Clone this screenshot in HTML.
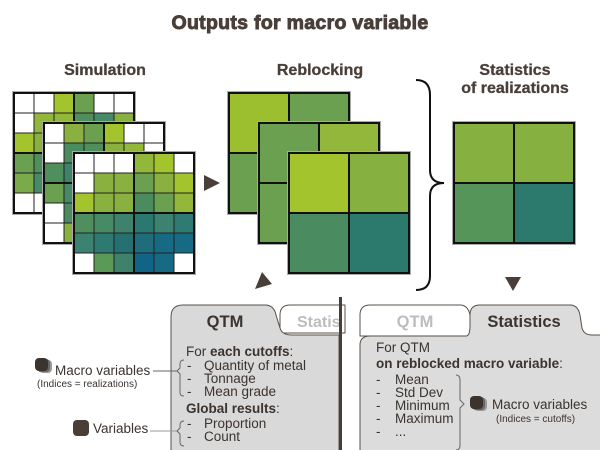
<!DOCTYPE html>
<html><head><meta charset="utf-8"><style>
html,body{margin:0;padding:0;background:#fff;}
svg{display:block;font-family:"Liberation Sans",sans-serif;}
</style></head><body>
<svg id="s" width="600" height="450" viewBox="0 0 600 450" xmlns="http://www.w3.org/2000/svg">
<text x="300" y="29" text-anchor="middle" font-size="19.5" font-weight="bold" fill="#4a3f38" stroke="#4a3f38" stroke-width="0.9" letter-spacing="0.3">Outputs for macro variable</text>
<g font-size="16" font-weight="bold" fill="#4a3f38" stroke="#4a3f38" stroke-width="0.3">
<text x="105" y="75" text-anchor="middle">Simulation</text>
<text x="320" y="75" text-anchor="middle">Reblocking</text>
<text x="515" y="75" text-anchor="middle">Statistics</text>
<text x="515" y="93" text-anchor="middle">of realizations</text>
</g>
<g id="grids"></g>
<path d="M416,80 Q430,80 430,95 L430,170 Q430,183 444,183 Q430,183 430,196 L430,276 Q430,290 416,290" fill="none" stroke="#111" stroke-width="2"/>
<polygon points="204,175 220,183 204,191" fill="#4a3f38"/>
<polygon points="255,289 272,284 262,272" fill="#4a3f38"/>
<polygon points="505,277 521,277 513,291" fill="#4a3f38"/>
<path d="M280,333 L280,315 Q280,305 290,305 L345,305 L345,333 Z" fill="#fff" stroke="#5a5048" stroke-width="1"/>
<text x="297" y="327" font-size="16" font-weight="bold" fill="#bdbdbd">Statis</text>
<path d="M171,452 L171,317 Q171,305 183,305 L265,305 Q274,305 276,315 L280,328 Q282,335 292,335 L339,335 L339,452 Z" fill="#d9d9d9" stroke="#5a5048" stroke-width="1"/>
<rect x="339" y="297" width="3" height="153" fill="#4a3f38"/>
<text x="225" y="327" text-anchor="middle" font-size="16.5" font-weight="bold" fill="#3b332e">QTM</text>
<g font-size="13.5" fill="#3b332e">
<text x="186" y="356">For <tspan font-weight="bold">each cutoffs</tspan>:</text>
<text x="187" y="370">-</text><text x="204" y="370">Quantity of metal</text>
<text x="187" y="383">-</text><text x="204" y="383">Tonnage</text>
<text x="187" y="396">-</text><text x="204" y="396">Mean grade</text>
<text x="186" y="413" font-weight="bold">Global results<tspan font-weight="normal">:</tspan></text>
<text x="187" y="428">-</text><text x="204" y="428">Proportion</text>
<text x="187" y="441">-</text><text x="204" y="441">Count</text>
</g>
<path d="M360,336 L360,315 Q360,305 370,305 L460,305 Q468,305 470,315 L472,336 Z" fill="#fff" stroke="#5a5048" stroke-width="1"/>
<text x="415" y="327" text-anchor="middle" font-size="16.5" font-weight="bold" fill="#bdbdbd">QTM</text>
<path d="M360,452 L360,345 Q360,336 370,336 L466,336 Q470,336 470,326 L470,315 Q470,305 480,305 L570,305 Q578,305 580,315 L582,328 Q584,335 592,335 L601,335 L601,452 Z" fill="#dcdcdc" stroke="#5a5048" stroke-width="1"/>
<text x="524" y="327" text-anchor="middle" font-size="16.5" font-weight="bold" fill="#3b332e">Statistics</text>
<g font-size="13.5" fill="#3b332e">
<text x="376" y="352">For QTM</text>
<text x="376" y="368" font-weight="bold">on reblocked macro variable<tspan font-weight="normal">:</tspan></text>
<text x="376" y="384">-</text><text x="395" y="384">Mean</text>
<text x="376" y="397">-</text><text x="395" y="397">Std Dev</text>
<text x="376" y="410">-</text><text x="395" y="410">Minimum</text>
<text x="376" y="423">-</text><text x="395" y="423">Maximum</text>
<text x="376" y="436">-</text><text x="395" y="436">...</text>
<text x="492" y="409">Macro variables</text>
<text x="496" y="422" font-size="10">(Indices = cutoffs)</text>
</g>
<path d="M456,375 Q460,375 460,380 L460,400 L464,404 L460,408 L460,445 Q460,450 456,450" fill="none" stroke="#666" stroke-width="1"/>
<g transform="translate(470,396)"><rect x="4" y="2" width="13" height="13" rx="4" fill="#999"/><rect x="2" y="1" width="13" height="13" rx="4" fill="#666"/><rect x="0" y="0" width="13" height="13" rx="4" fill="#3b332e"/></g>
<g transform="translate(35,358)"><rect x="4" y="2" width="13" height="13" rx="4" fill="#999"/><rect x="2" y="1" width="13" height="13" rx="4" fill="#666"/><rect x="0" y="0" width="13" height="13" rx="4" fill="#3b332e"/></g>
<text x="55" y="375" font-size="13.5" fill="#3b332e">Macro variables</text>
<text x="37" y="387" font-size="10" fill="#3b332e">(Indices = realizations)</text>
<line x1="153" y1="371" x2="177" y2="371" stroke="#666"/>
<path d="M184,360 Q180,360 180,364 L180,368 L177,371 L180,374 L180,393 Q180,396 184,396" fill="none" stroke="#666"/>
<rect x="73" y="420" width="16" height="16" rx="4" fill="#4a3f38"/>
<text x="93" y="433" font-size="13.5" fill="#3b332e">Variables</text>
<line x1="150" y1="431" x2="177" y2="431" stroke="#999"/>
<path d="M184,421 Q180,421 180,425 L180,428 L177,431 L180,434 L180,442 Q180,446 184,446" fill="none" stroke="#666"/>
</svg>
<script>
var W='#ffffff';
var g1=[[W,W,'#a4c42e','#6aa050',W,W],[W,'#93b73a','#93b73a','#4f8f5e','#468a66','#8ab040'],['#a4c42e','#8ab040','#6aa050','#4f8f5e','#468a66','#3e826c'],['#6aa050','#4f8f5e','#468a66','#3e826c','#2a7870','#2a7870'],['#7aaa4a','#468a66','#3e826c','#2a7870','#267072','#1f6c7c'],[W,W,'#5a9a56','#3e826c','#267072','#1f6c7c']];
var g2=[[W,'#8ab040','#6aa050','#a4c42e',W,W],[W,'#4a8c60','#4f8f5e','#8ab040','#93b73a',W],['#4f8f5e','#3e826c','#468a66','#6aa050','#4f8f5e','#3e826c'],['#6aa050','#468a66','#3e826c','#2a7870','#2a7870','#267072'],[W,'#4a8c60','#3e826c','#267072','#1f6c7c','#176a84'],[W,'#8ab040','#5a9a56','#267072','#176a84','#176a84']];
var g3=[[W,W,W,'#93b73a','#a4c42e',W],[W,'#8ab040','#8ab040','#6aa050','#8ab040','#a4c42e'],['#a4c42e','#8ab040','#8ab040','#4a8c60','#6aa050','#93b73a'],['#4f8f5e','#468a66','#3e826c','#2a7870','#3c8270','#2f7a72'],['#3c8270','#2e7a72','#267072','#1f6c7c','#176a84','#166a84'],[W,'#5a9a56','#3e826c','#116486','#176a84',W]];
var h='';
function grid(x,y,g,n,cs){
 var s='<rect x="'+(x-1)+'" y="'+(y-1)+'" width="'+(n*cs+2)+'" height="'+(n*cs+2)+'" fill="none" stroke="#aaa" stroke-width="2"/>';
 for(var r=0;r<n;r++)for(var c=0;c<n;c++)s+='<rect x="'+(x+c*cs)+'" y="'+(y+r*cs)+'" width="'+cs+'" height="'+cs+'" fill="'+g[r][c]+'" stroke="#222" stroke-width="1"/>';
 var m=n*cs/2;
 s+='<line x1="'+(x+m)+'" y1="'+y+'" x2="'+(x+m)+'" y2="'+(y+n*cs)+'" stroke="#111" stroke-width="2"/>';
 s+='<line x1="'+x+'" y1="'+(y+m)+'" x2="'+(x+n*cs)+'" y2="'+(y+m)+'" stroke="#111" stroke-width="2"/>';
 s+='<rect x="'+x+'" y="'+y+'" width="'+(n*cs)+'" height="'+(n*cs)+'" fill="none" stroke="#111" stroke-width="2"/>';
 return s;}
h+=grid(14,93,g1,6,20)+grid(44,123,g2,6,20)+grid(74,153,g3,6,20);
h+=grid(229,93,[['#9cbf30','#6aa050'],['#6aa050','#6aa050']],2,60);
h+=grid(259,123,[['#6aa050','#93b73a'],['#6aa050','#6aa050']],2,60);
h+=grid(289,153,[['#a4c42e','#86b040'],['#4a8c60','#2c7a6e']],2,60);
h+=grid(454,123,[['#86b040','#86b040'],['#56955a','#2c7a6e']],2,60);
document.getElementById('grids').innerHTML=h;
</script>
</body></html>
